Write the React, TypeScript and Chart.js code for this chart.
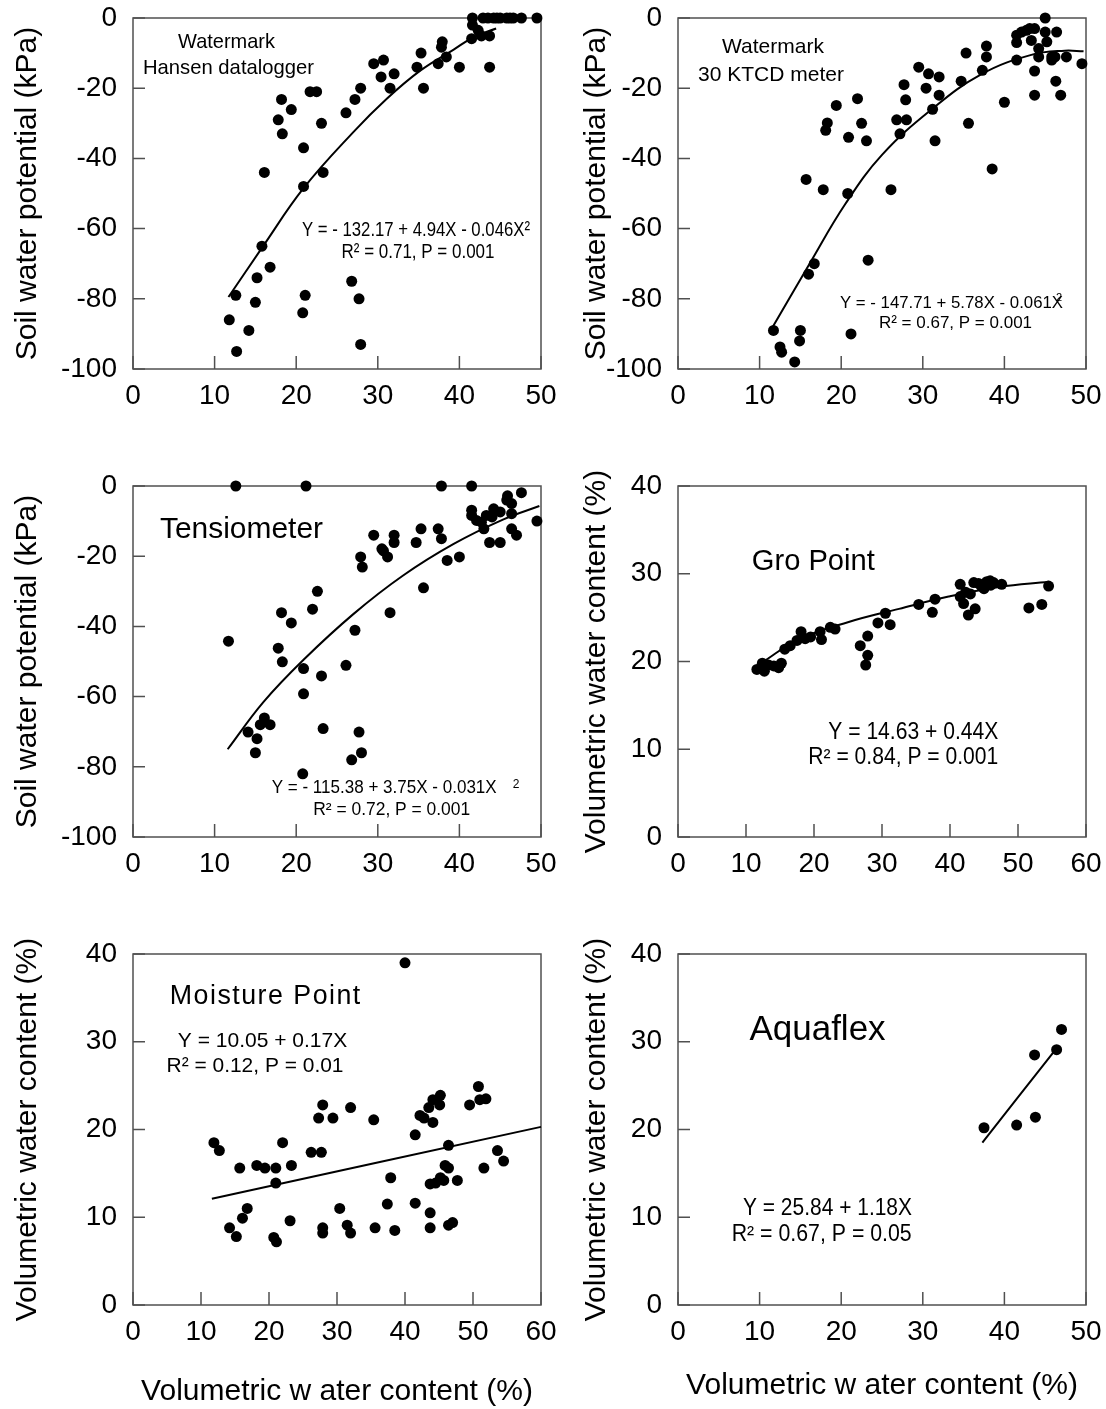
import React, { useEffect, useRef } from 'react';
import { Chart, registerables } from 'chart.js';

Chart.register(...registerables);

const FONT = '"Liberation Sans", Arial, Helvetica, sans-serif';

// ---------- tick labels ----------
const psiTicks = [-100, -80, -60, -40, -20, 0];
const vwcYTicks = [0, 10, 20, 30, 40];
const vwc50Ticks = [0, 10, 20, 30, 40, 50];
const vwc60Ticks = [0, 10, 20, 30, 40, 50, 60];

// ---------- Panel 1: Watermark / Hansen datalogger ----------
const hansenX = [41.6, 41.6, 42.3, 42.9, 43.5, 44.2, 45.0, 45.8, 46.6, 47.6, 49.5, 41.5, 42.7, 43.7, 43.7, 37.9, 37.8, 38.4, 37.4, 35.3, 34.8, 40.0, 35.6, 29.5, 30.7, 30.4, 32.0, 31.5, 27.9, 27.2, 26.1, 21.7, 22.5, 18.2, 19.4, 17.8, 18.3, 23.1, 20.9, 16.1, 23.3, 20.9, 15.8, 16.8, 15.2, 12.6, 15.0, 11.8, 14.2, 12.7, 21.1, 20.8, 26.8, 27.7, 27.9, 44.6, 46.2];
const hansenY = [0, -2, -3.5, 0, 0, 0, 0, 0, 0, 0, 0, -5.9, -5.1, -5.1, -14, -6.8, -8.3, -11.1, -13, -10, -14, -14, -20, -13, -12, -16.8, -15.9, -20, -20, -23.2, -27, -21, -21, -23.2, -26.1, -29, -33, -30, -37, -44, -44, -48, -65, -71, -74, -79, -81, -86, -89, -95, -79, -84, -75, -80, -93, 0, 0];
const hansenFitX = [11.7, 15.8, 20.9, 27.0, 31.1, 35.2, 39.3, 41.7, 44.5];
const hansenFitY = [-79.5, -65.5, -48.5, -32.5, -23, -15, -9, -5.5, -3];

// ---------- Panel 2: Watermark / 30 KTCD meter ----------
const ktcdX = [45.0, 41.5, 42.1, 42.7, 43.1, 43.7, 41.5, 43.3, 45.0, 46.4, 45.2, 44.2, 44.2, 45.8, 46.2, 47.6, 49.5, 45.8, 41.5, 43.7, 43.7, 46.3, 46.9, 37.8, 37.8, 35.3, 37.3, 34.7, 35.6, 40.0, 38.5, 29.5, 30.7, 32.0, 30.4, 32.0, 31.2, 31.5, 27.7, 27.9, 26.8, 28.0, 27.2, 26.1, 19.4, 22.0, 18.3, 18.1, 22.5, 20.9, 23.1, 15.7, 17.8, 20.8, 23.3, 16.7, 16.0, 11.7, 12.5, 12.7, 15.0, 14.9, 14.3, 21.2];
const ktcdY = [0, -4.9, -4, -3.5, -3, -3, -7, -6.4, -4, -4, -6.8, -8.7, -11.1, -11.1, -11.1, -11.1, -13, -12, -12, -15.1, -22, -18, -22, -8, -11.1, -10, -14.9, -18, -30, -24, -43, -14, -15.9, -16.8, -20, -22, -26, -35, -19, -23.3, -29, -29, -33, -48.9, -24.9, -23, -29.9, -32, -30, -34, -35, -46, -48.9, -50, -69, -70, -73, -89, -93.7, -95.2, -89, -92, -98, -90];
const ktcdFitX = [11.6, 16.0, 20.5, 25.0, 31.1, 37.2, 43.3, 47.4, 49.7];
const ktcdFitY = [-88, -70.5, -53, -39, -26, -16, -10.5, -9.3, -9.5];

// ---------- Panel 3: Tensiometer ----------
const tensX = [12.6, 21.2, 37.8, 41.5, 47.6, 45.9, 46.4, 45.8, 49.5, 41.5, 41.5, 42.1, 42.7, 43.3, 44.2, 45.0, 46.4, 43.0, 43.7, 45.0, 46.4, 47.0, 44.0, 35.3, 37.4, 37.8, 34.7, 38.5, 40.0, 35.6, 29.5, 32.0, 32.0, 30.5, 31.2, 27.9, 28.1, 31.5, 22.6, 22.0, 18.2, 19.4, 11.7, 17.8, 18.3, 20.9, 23.1, 20.9, 27.2, 26.1, 16.1, 15.6, 16.8, 14.1, 15.2, 15.0, 23.3, 27.7, 28.0, 26.8, 20.8, 30.7];
const tensY = [0, 0, 0, 0, -1.9, -2.8, -5, -4, -10, -6.9, -8.4, -9.8, -10.3, -8.4, -6.5, -7.4, -7.9, -12.2, -16.1, -16.1, -12.2, -14, -8.8, -12.2, -12.2, -15, -16.1, -21.2, -20.2, -29, -14, -14, -16.1, -17.9, -20.2, -20.2, -23.1, -36.1, -30, -35.1, -36.1, -39, -44.2, -46.2, -50.1, -52, -54.1, -59.2, -41.1, -51.1, -66.1, -68, -68, -70.1, -72, -76, -69.1, -70.1, -76, -78, -82, -18.5];
const tensFitX = [11.6, 16.0, 20.9, 27.0, 33.1, 39.3, 45.4, 49.8];
const tensFitY = [-75, -61.5, -49.5, -36.5, -25.5, -16.5, -9.5, -5.7];

// ---------- Panel 4: Gro Point ----------
const groX = [11.6, 12.4, 12.7, 14.1, 14.8, 15.2, 15.7, 16.5, 17.5, 18.1, 18.7, 19.5, 20.9, 21.1, 22.4, 23.1, 26.8, 27.9, 27.9, 27.6, 29.4, 30.5, 31.2, 35.4, 37.8, 37.4, 41.5, 41.5, 42.0, 42.7, 43.7, 43.0, 43.5, 44.2, 45.0, 45.4, 45.9, 46.4, 47.6, 51.6, 53.5, 54.5, 13.3, 44.6, 46.0, 42.3];
const groY = [19.1, 19.8, 18.9, 19.5, 19.3, 19.8, 21.4, 21.8, 22.4, 23.4, 22.6, 22.8, 23.4, 22.5, 23.9, 23.7, 21.8, 22.9, 20.7, 19.6, 24.4, 25.5, 24.2, 26.5, 27.1, 25.6, 28.8, 27.4, 26.6, 25.3, 26.0, 27.7, 29.0, 28.9, 28.3, 29.1, 29.2, 29.0, 28.8, 26.1, 26.5, 28.6, 19.6, 28.6, 28.7, 27.9];
const groFitX = [12.4, 17.7, 25.1, 32.5, 39.8, 47.2, 54.5];
const groFitY = [19.9, 22.5, 24.5, 26.0, 27.4, 28.5, 29.1];

// ---------- Panel 5: Moisture Point ----------
const moistX = [40.0, 11.9, 12.7, 15.7, 18.2, 19.4, 21.0, 22.0, 23.3, 21.0, 16.8, 16.1, 14.2, 15.2, 20.7, 21.1, 23.1, 27.3, 27.9, 29.4, 26.2, 27.7, 27.9, 27.9, 30.4, 31.5, 32.0, 32.0, 35.4, 35.6, 37.4, 37.9, 38.5, 41.5, 42.2, 42.8, 43.5, 44.1, 44.1, 45.1, 45.2, 41.5, 43.7, 44.5, 45.2, 45.7, 45.9, 46.4, 46.4, 47.7, 43.7, 43.7, 46.4, 47.0, 49.5, 50.8, 51.0, 51.9, 51.6, 53.6, 54.5];
const moistY = [39.0, 18.5, 17.6, 15.6, 15.9, 15.6, 15.6, 18.5, 15.9, 13.9, 11.0, 9.9, 8.8, 7.8, 7.7, 7.2, 9.6, 21.3, 22.8, 21.3, 17.4, 17.4, 8.8, 8.2, 11.0, 9.1, 8.2, 22.5, 21.1, 8.8, 11.5, 14.5, 8.5, 19.4, 21.6, 21.3, 22.5, 20.8, 23.4, 22.8, 23.9, 11.6, 13.8, 13.9, 14.5, 14.2, 15.9, 15.6, 18.2, 14.2, 10.5, 8.8, 9.1, 9.4, 22.8, 24.9, 23.4, 23.5, 15.6, 17.6, 16.4];
const moistFitX = [11.6, 60];
const moistFitY = [12.1, 20.3];

// ---------- Panel 6: Aquaflex ----------
const aquaX = [37.5, 41.5, 43.8, 43.7, 46.4, 47.0];
const aquaY = [20.2, 20.5, 21.4, 28.5, 29.1, 31.4];
const aquaFitX = [37.3, 46.0];
const aquaFitY = [18.5, 28.8];

// ---------- layout ----------
const PLOT_W = 408;
const PLOT_H = 351;
const TOP_PAD = 40;
const RIGHT_PAD = 32;

type Note = { text: string; x: number; y: number; size: number; w?: number; spacing?: number };

type Panel = {
  id: string;
  left: number; plotTop: number;
  L: number; B: number;
  xs: number[]; ys: number[]; fitX: number[]; fitY: number[];
  xTicks: number[]; yTicks: number[];
  yTitle: string; yTitlePad: number;
  xTitle?: string; xTitlePad?: number;
  notes: Note[];
};

const Y_PSI = 'Soil water potential (kPa)';
const Y_VWC = 'Volumetric water content (%)';
const X_VWC = 'Volumetric w ater content (%)';

const panels: Panel[] = [
  {
    id: 'p1', left: 0, plotTop: 18, L: 133, B: 60,
    xs: hansenX, ys: hansenY, fitX: hansenFitX, fitY: hansenFitY,
    xTicks: vwc50Ticks, yTicks: psiTicks, yTitle: Y_PSI, yTitlePad: 10,
    notes: [
      { text: 'Watermark', x: 93.5, y: 24.5, size: 21, w: 97 },
      { text: 'Hansen datalogger', x: 95.5, y: 49.8, size: 21, w: 171 },
      { text: 'Y = - 132.17 + 4.94X - 0.046X\u00b2', x: 283, y: 212.3, size: 21, w: 228 },
      { text: 'R\u00b2 = 0.71, P = 0.001', x: 285, y: 234.3, size: 20, w: 153 },
    ],
  },
  {
    id: 'p2', left: 578, plotTop: 18, L: 100, B: 60,
    xs: ktcdX, ys: ktcdY, fitX: ktcdFitX, fitY: ktcdFitY,
    xTicks: vwc50Ticks, yTicks: psiTicks, yTitle: Y_PSI, yTitlePad: 1,
    notes: [
      { text: 'Watermark', x: 95, y: 28.8, size: 21, w: 102 },
      { text: '30 KTCD meter', x: 93, y: 57, size: 21, w: 148 },
      { text: 'Y = - 147.71 + 5.78X - 0.061X', x: 273.5, y: 285, size: 17, w: 223 },
      { text: '2', x: 381, y: 280, size: 11 },
      { text: 'R\u00b2 = 0.67, P = 0.001', x: 277.5, y: 305.3, size: 17, w: 155 },
    ],
  },
  {
    id: 'p3', left: 0, plotTop: 486, L: 133, B: 60,
    xs: tensX, ys: tensY, fitX: tensFitX, fitY: tensFitY,
    xTicks: vwc50Ticks, yTicks: psiTicks, yTitle: Y_PSI, yTitlePad: 10,
    notes: [
      { text: 'Tensiometer', x: 108.5, y: 43.7, size: 30, w: 163 },
      { text: 'Y = - 115.38 + 3.75X - 0.031X', x: 251.2, y: 302, size: 18, w: 225 },
      { text: '2', x: 383, y: 298.3, size: 12 },
      { text: 'R\u00b2 = 0.72, P = 0.001', x: 258.7, y: 324, size: 18, w: 157 },
    ],
  },
  {
    id: 'p4', left: 578, plotTop: 486, L: 100, B: 60,
    xs: groX, ys: groY, fitX: groFitX, fitY: groFitY,
    xTicks: vwc60Ticks, yTicks: vwcYTicks, yTitle: Y_VWC, yTitlePad: 1,
    notes: [
      { text: 'Gro Point', x: 135.3, y: 75.3, size: 30, w: 123 },
      { text: 'Y = 14.63 + 0.44X', x: 235.3, y: 246.7, size: 23, w: 170 },
      { text: 'R\u00b2 = 0.84, P = 0.001', x: 225.3, y: 272, size: 23, w: 190 },
    ],
  },
  {
    id: 'p5', left: 0, plotTop: 954, L: 133, B: 105,
    xs: moistX, ys: moistY, fitX: moistFitX, fitY: moistFitY,
    xTicks: vwc60Ticks, yTicks: vwcYTicks, yTitle: Y_VWC, yTitlePad: 10,
    xTitle: X_VWC, xTitlePad: 0,
    notes: [
      { text: 'Moisture Point', x: 132.8, y: 42.7, size: 27, w: 192, spacing: 1.5 },
      { text: 'Y = 10.05 + 0.17X', x: 129.5, y: 87.7, size: 21, w: 171 },
      { text: 'R\u00b2 = 0.12, P = 0.01', x: 122, y: 112, size: 21, w: 177 },
    ],
  },
  {
    id: 'p6', left: 578, plotTop: 954, L: 100, B: 105,
    xs: aquaX, ys: aquaY, fitX: aquaFitX, fitY: aquaFitY,
    xTicks: vwc50Ticks, yTicks: vwcYTicks, yTitle: Y_VWC, yTitlePad: 1,
    xTitle: X_VWC, xTitlePad: 6,
    notes: [
      { text: 'Aquaflex', x: 139.5, y: 76, size: 35, w: 139 },
      { text: 'Y = 25.84 + 1.18X', x: 149.5, y: 254.3, size: 23, w: 169 },
      { text: 'R\u00b2 = 0.67, P = 0.05', x: 143.7, y: 280.3, size: 23, w: 180 },
    ],
  },
];

const framePlugin = {
  id: 'frame',
  beforeDatasetsDraw(chart: any) {
    const { ctx, chartArea } = chart;
    const { left, top, right, bottom } = chartArea;
    const xs = chart.scales.x;
    const ys = chart.scales.y;
    ctx.save();
    ctx.strokeStyle = '#505050';
    ctx.lineWidth = 1.5;
    ctx.strokeRect(left, top, right - left, bottom - top);
    ctx.beginPath();
    xs.ticks.forEach((t: any) => {
      const px = xs.getPixelForValue(t.value);
      ctx.moveTo(px, bottom);
      ctx.lineTo(px, bottom - 13);
    });
    ys.ticks.forEach((t: any) => {
      const py = ys.getPixelForValue(t.value);
      ctx.moveTo(left, py);
      ctx.lineTo(left + 12, py);
    });
    ctx.stroke();
    ctx.restore();
  },
};

function notesPlugin(notes: Note[]) {
  return {
    id: 'notes',
    afterDraw(chart: any) {
      const { ctx, chartArea } = chart;
      ctx.save();
      ctx.fillStyle = '#000';
      ctx.textAlign = 'center';
      ctx.textBaseline = 'middle';
      notes.forEach((n) => {
        ctx.font = `${n.size}px ${FONT}`;
        (ctx as any).letterSpacing = n.spacing ? `${n.spacing}px` : '0px';
        const x = chartArea.left + n.x;
        const y = chartArea.top + n.y;
        if (n.w) ctx.fillText(n.text, x, y, n.w);
        else ctx.fillText(n.text, x, y);
      });
      ctx.restore();
    },
  };
}

function buildConfig(p: Panel): any {
  const tickFont = { size: 28, family: FONT };
  const titleFont = { size: 30, family: FONT };
  return {
    type: 'scatter',
    data: {
      datasets: [
        {
          type: 'line',
          data: p.fitX.map((x, i) => ({ x, y: p.fitY[i] })),
          borderColor: '#000',
          borderWidth: 2,
          pointRadius: 0,
          fill: false,
          tension: 0.4,
          cubicInterpolationMode: 'default',
          order: 2,
          clip: false,
        },
        {
          type: 'scatter',
          data: p.xs.map((x, i) => ({ x, y: p.ys[i] })),
          backgroundColor: '#000',
          borderColor: '#000',
          borderWidth: 0,
          pointRadius: 5.5,
          pointHoverRadius: 5.5,
          order: 1,
          clip: false,
        },
      ],
    },
    options: {
      animation: false,
      responsive: false,
      devicePixelRatio: 1,
      events: [],
      layout: { padding: { left: 0, top: TOP_PAD, right: RIGHT_PAD, bottom: 0 } },
      plugins: { legend: { display: false }, tooltip: { enabled: false } },
      scales: {
        x: {
          type: 'linear',
          min: p.xTicks[0],
          max: p.xTicks[p.xTicks.length - 1],
          afterBuildTicks: (s: any) => { s.ticks = p.xTicks.map((v) => ({ value: v })); },
          afterFit: (s: any) => { s.height = p.B; },
          grid: { display: false, drawTicks: false },
          border: { display: false },
          ticks: { font: tickFont, color: '#000', padding: 10, maxRotation: 0, minRotation: 0, autoSkip: false },
          title: p.xTitle
            ? { display: true, text: p.xTitle, font: titleFont, color: '#000', padding: { top: 0, bottom: p.xTitlePad || 0 } }
            : { display: false },
        },
        y: {
          type: 'linear',
          min: p.yTicks[0],
          max: p.yTicks[p.yTicks.length - 1],
          afterBuildTicks: (s: any) => { s.ticks = p.yTicks.map((v) => ({ value: v })); },
          afterFit: (s: any) => { s.width = p.L; },
          grid: { display: false, drawTicks: false },
          border: { display: false },
          ticks: { font: tickFont, color: '#000', padding: 16, autoSkip: false },
          title: { display: true, text: p.yTitle, font: titleFont, color: '#000', padding: { top: p.yTitlePad, bottom: 0 } },
        },
      },
    },
    plugins: [framePlugin, notesPlugin(p.notes)],
  };
}

function PanelChart({ p }: { p: Panel }) {
  const ref = useRef<HTMLCanvasElement | null>(null);
  useEffect(() => {
    if (!ref.current) return;
    const chart = new Chart(ref.current, buildConfig(p));
    return () => chart.destroy();
  }, [p]);
  const W = p.L + PLOT_W + RIGHT_PAD;
  const H = TOP_PAD + PLOT_H + p.B;
  return (
    <canvas
      ref={ref}
      width={W}
      height={H}
      style={{ position: 'absolute', left: p.left, top: p.plotTop - TOP_PAD, width: W, height: H }}
    />
  );
}

export default function App() {
  return (
    <div style={{ position: 'absolute', left: 0, top: 0, width: 1106, height: 1409, background: '#fff', overflow: 'hidden' }}>
      {panels.map((p) => (
        <PanelChart key={p.id} p={p} />
      ))}
    </div>
  );
}
